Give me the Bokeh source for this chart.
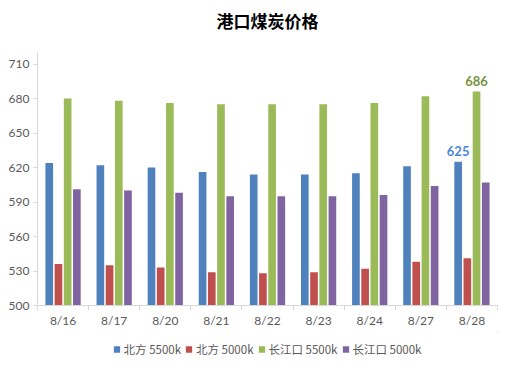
from bokeh.plotting import figure
from bokeh.layouts import column
from bokeh.models import ColumnDataSource, FixedTicker, Legend, LegendItem, Range1d, Label
from bokeh.core.properties import value
from bokeh.embed import file_html
from bokeh.resources import INLINE

dates = ["8/16", "8/17", "8/20", "8/21", "8/22", "8/23", "8/24", "8/27", "8/28"]
north_5500 = [624, 622, 620, 616, 614, 614, 615, 621, 625]
north_5000 = [536, 535, 533, 529, 528, 529, 532, 538, 541]
yangtze_5500 = [680, 678, 676, 675, 675, 675, 676, 682, 686]
yangtze_5000 = [601, 600, 598, 595, 595, 595, 596, 604, 607]
series_names = ["北方 5500k", "北方 5000k", "长江口 5500k", "长江口 5000k"]
series_values = [north_5500, north_5000, yangtze_5500, yangtze_5000]
colors = ["#4F81BD", "#C0504D", "#9BBB59", "#8064A2"]
y_ticks = [500, 530, 560, 590, 620, 650, 680, 710]
title_text = "港口煤炭价格"

FONT = "Noto Sans CJK SC"
TICK_FONT = "Lato"
W = 512


def strip(h):
    f = figure(width=W, height=h, output_backend="svg", toolbar_location=None,
               x_range=Range1d(0, 1), y_range=Range1d(0, 1),
               x_axis_location=None, y_axis_location=None,
               min_border=0, min_border_left=0, min_border_right=0,
               min_border_top=0, min_border_bottom=0)
    f.grid.visible = False
    f.outline_line_color = None
    return f


# title strip
tt = strip(40)
tt.add_layout(Label(x=0.5, y=0.5, text=title_text,
                    text_align="center", text_baseline="middle", text_font=FONT,
                    text_font_size="17px", text_font_style="bold", text_color="#000000"))

# main chart
p = figure(width=W, height=291, output_backend="svg", toolbar_location=None,
           x_range=Range1d(0, len(dates)), y_range=Range1d(500, 720),
           min_border_left=37, min_border_right=15, min_border_top=12, min_border_bottom=26)
p.outline_line_color = None
p.xgrid.visible = False
p.ygrid.visible = False
p.background_fill_color = "white"
p.border_fill_color = "white"

centers = [i + 0.5 for i in range(len(dates))]
offsets = [-0.27, -0.09, 0.09, 0.27]
bar_w = 0.15

for vals, col, off in zip(series_values, colors, offsets):
    src = ColumnDataSource(dict(x=[c + off for c in centers], top=vals))
    p.vbar(x="x", top="top", bottom=500, width=bar_w, source=src,
           fill_color=col, line_color=None)

# data labels on the last point for two series
last = len(dates) - 1
lab_src = ColumnDataSource(dict(
    x=[centers[last] + offsets[0], centers[last] + offsets[2]],
    y=[north_5500[last], yangtze_5500[last]],
    t=[str(north_5500[last]), str(yangtze_5500[last])],
    c=["#4A86D8", "#76923C"]))
p.text(x="x", y="y", text="t", source=lab_src, text_color="c",
       text_font=value(TICK_FONT), text_font_size="13px", text_font_style="bold",
       text_align="center", text_baseline="bottom", y_offset=-6)

# axes
yax = p.yaxis[0]
yax.ticker = FixedTicker(ticks=y_ticks)
yax.axis_line_color = "#D9D9D9"
yax.major_tick_line_color = "#D9D9D9"
yax.major_tick_in = 0
yax.major_tick_out = 4
yax.minor_tick_line_color = None
yax.major_label_text_font = TICK_FONT
yax.major_label_text_font_size = "12px"
yax.major_label_text_color = "#595959"
yax.major_label_standoff = 4

xax = p.xaxis[0]
xax.ticker = FixedTicker(ticks=centers, minor_ticks=list(range(len(dates) + 1)))
xax.major_label_overrides = {c: d for c, d in zip(centers, dates)}
xax.axis_line_color = "#D9D9D9"
xax.major_tick_line_color = None
xax.minor_tick_line_color = "#D9D9D9"
xax.minor_tick_in = 0
xax.minor_tick_out = 5
xax.major_label_text_font = TICK_FONT
xax.major_label_text_font_size = "12px"
xax.major_label_text_color = "#595959"
xax.major_label_standoff = 1

# legend strip (separate small figure so the legend is not clipped)
lg = strip(30)
items = []
for name, col in zip(series_names, colors):
    # off-screen swatch renderer: only its style is used by the legend
    r = lg.vbar(x=[5], top=[5], bottom=4, width=0.1, fill_color=col, line_color=None)
    items.append(LegendItem(label=name, renderers=[r]))
legend = Legend(items=items, orientation="horizontal", location="bottom_center",
                label_text_font=FONT, label_text_font_size="11.5px",
                label_text_color="#595959", glyph_width=8, glyph_height=8,
                label_height=14, label_standoff=3, spacing=4, padding=0, margin=4,
                border_line_color=None, background_fill_alpha=0)
lg.add_layout(legend, "center")

layout = column(tt, p, lg, spacing=0)
open("out.html", "w").write(file_html(layout, INLINE))
